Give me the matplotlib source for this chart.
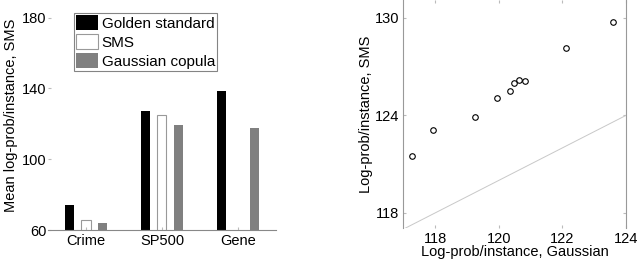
import numpy as np
import matplotlib
matplotlib.use("Agg")
import matplotlib.pyplot as plt

plt.rcParams['font.family'] = ['Liberation Sans', 'DejaVu Sans']
plt.rcParams['font.size'] = 10.5

# bar chart data
datasets = ['Crime', 'SP500', 'Gene']
golden = [74.1, 127.3, 138.3]
sms = [65.5, 124.9, np.nan]
gauss_copula = [64.1, 119.6, 117.9]

# scatter data
gauss_ll = [117.27, 117.93, 119.26, 119.94, 120.36, 120.47, 120.65, 120.83, 122.13, 123.58]
sms_ll = [121.53, 123.13, 123.93, 125.06, 125.51, 125.98, 126.18, 126.12, 128.17, 129.73]

fig = plt.figure(figsize=(6.4, 2.62), dpi=100)

# --- left: bars ---
ax1 = fig.add_axes([0.075, 0.122, 0.356, 0.878])
x = np.arange(1, len(datasets) + 1)
w = 0.12
off = 0.22
ax1.bar(x - off, golden, w, color='black', label='Golden standard')
ax1.bar(x, sms, w, color='white', edgecolor='#999999', linewidth=0.8, label='SMS')
ax1.bar(x + off, gauss_copula, w, color='#808080', label='Gaussian copula')
ax1.set_xlim(0.5, 3.5)
ax1.set_ylim(60, 190)
ax1.set_xticks(x)
ax1.set_xticklabels(datasets)
ax1.set_yticks([60, 100, 140, 180])
ax1.set_ylabel('Mean log-prob/instance, SMS', labelpad=3)
for s in ['left', 'top', 'right']:
    ax1.spines[s].set_visible(False)
ax1.spines['bottom'].set_color('#888888')
ax1.tick_params(direction='in', length=2, color='#bbbbbb')
ax1.tick_params(axis='y', pad=1)
ax1.tick_params(axis='x', pad=3)
leg = ax1.legend(loc='upper left', bbox_to_anchor=(0.115, 0.943), frameon=True,
                 fancybox=False, edgecolor='#666666', borderpad=0.15,
                 handlelength=1.4, handleheight=1.1, handletextpad=0.25,
                 labelspacing=0.22, borderaxespad=0, fontsize=11)
leg.get_frame().set_linewidth(0.8)

# --- right: scatter ---
ax2 = fig.add_axes([0.63, 0.13, 0.348, 0.87])
ax2.plot([117, 124], [117, 124], color='#c8c8c8', linewidth=0.7)
ax2.plot(gauss_ll, sms_ll, 'o', markerfacecolor='none', markeredgecolor='black',
         markersize=4, markeredgewidth=0.8)
ax2.set_xlim(117, 124)
ax2.set_ylim(117.08, 131.1)
ax2.set_xticks([118, 120, 122, 124])
ax2.set_yticks([118, 124, 130])
ax2.set_xlabel('Log-prob/instance, Gaussian', labelpad=-1)
ax2.set_ylabel('Log-prob/instance, SMS', labelpad=1)
for s in ['top', 'bottom']:
    ax2.spines[s].set_visible(False)
for s in ['left', 'right']:
    ax2.spines[s].set_color('#999999')
ax2.tick_params(direction='in', length=2, color='#bbbbbb', pad=3, top=True, right=True)

fig.savefig('out.png', dpi=100)
